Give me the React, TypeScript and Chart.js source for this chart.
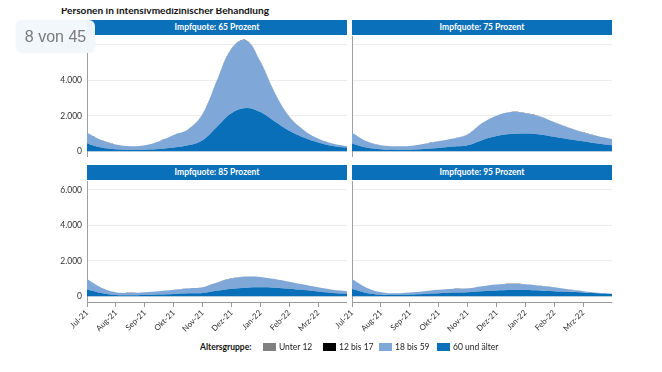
import React, { useEffect, useRef } from 'react';
import { Chart, registerables } from 'chart.js';

Chart.register(...registerables);

const MONTHS = ['Jul-21', 'Aug-21', 'Sep-21', 'Okt-21', 'Nov-21', 'Dez-21', 'Jan-22', 'Feb-22', 'Mrz-22'];
// half-month positions from 1 Jul 2021 (0) to 1 Apr 2022 (9)
const POSITIONS = [0, 0.5, 1, 1.5, 2, 2.5, 3, 3.5, 4, 4.5, 5, 5.5, 6, 6.5, 7, 7.5, 8, 8.5, 9];
const Y_TICKS = [0, 2000, 4000, 6000];

const PANEL_TITLES = ['Impfquote: 65 Prozent', 'Impfquote: 75 Prozent', 'Impfquote: 85 Prozent', 'Impfquote: 95 Prozent'];
const LEGEND_LABELS = ['Unter 12', '12 bis 17', '18 bis 59', '60 und älter'];

// Impfquote 65 %
const Q65_ALT = [440, 210, 115, 75, 95, 130, 210, 340, 630, 1390, 2150, 2440, 2210, 1680, 1160, 780, 500, 300, 210];
const Q65_MITTE = [605, 420, 265, 210, 245, 440, 705, 900, 1470, 2610, 3620, 3810, 2840, 1620, 800, 420, 220, 140, 75];
const Q65_JUGEND = [4, 3, 2, 1, 2, 2, 4, 5, 7, 11, 15, 16, 13, 8, 5, 3, 2, 1, 1];
const Q65_KIND = [4, 3, 2, 1, 2, 2, 4, 5, 7, 11, 14, 15, 12, 8, 5, 3, 2, 1, 1];

// Impfquote 75 %
const Q75_ALT = [440, 210, 115, 95, 95, 130, 190, 265, 340, 630, 860, 970, 1010, 950, 820, 685, 570, 440, 340];
const Q75_MITTE = [605, 360, 225, 190, 205, 290, 380, 455, 610, 950, 1140, 1240, 1140, 1010, 820, 645, 495, 420, 345];
const Q75_JUGEND = [4, 3, 2, 1, 2, 2, 3, 3, 4, 5, 6, 6, 6, 5, 4, 4, 3, 2, 2];
const Q75_KIND = [4, 3, 2, 1, 2, 2, 3, 3, 4, 5, 6, 6, 6, 5, 4, 3, 3, 2, 2];

// Impfquote 85 %
const Q85_ALT = [390, 194, 78, 58, 78, 97, 136, 175, 194, 310, 427, 485, 505, 485, 427, 350, 272, 194, 155];
const Q85_MITTE = [580, 291, 155, 136, 155, 193, 234, 270, 311, 465, 583, 620, 585, 485, 388, 310, 233, 176, 135];
const Q85_JUGEND = [3, 2, 1, 1, 1, 1, 2, 2, 2, 3, 3, 3, 3, 3, 2, 2, 2, 1, 1];
const Q85_KIND = [3, 2, 1, 1, 1, 1, 2, 2, 2, 3, 3, 3, 3, 3, 2, 2, 2, 1, 1];

// Impfquote 95 %
const Q95_ALT = [410, 194, 97, 78, 97, 136, 175, 214, 233, 290, 330, 350, 350, 330, 290, 252, 214, 175, 136];
const Q95_MITTE = [560, 291, 136, 97, 117, 154, 195, 213, 212, 273, 330, 350, 330, 270, 215, 138, 76, 30, 10];
const Q95_JUGEND = [3, 2, 1, 1, 1, 1, 2, 2, 2, 2, 2, 2, 2, 2, 2, 1, 1, 1, 1];
const Q95_KIND = [3, 2, 1, 1, 1, 1, 2, 2, 2, 2, 2, 2, 2, 2, 2, 1, 1, 1, 1];

const PANEL_DATA = [
  [Q65_ALT, Q65_MITTE, Q65_JUGEND, Q65_KIND],
  [Q75_ALT, Q75_MITTE, Q75_JUGEND, Q75_KIND],
  [Q85_ALT, Q85_MITTE, Q85_JUGEND, Q85_KIND],
  [Q95_ALT, Q95_MITTE, Q95_JUGEND, Q95_KIND],
];

const DARK = '#0a6fb9';
const LIGHT = '#7fa7d7';
const GREY = '#808080';
const BLACK = '#000000';
const HEADER = '#0b70ba';
const FONT = 'Lato, "Open Sans", sans-serif';

const fmt = (v: number) => String(v).replace(/\B(?=(\d{3})+(?!\d))/g, '.');

const toXY = (arr: number[]) => arr.map((y, i) => ({ x: POSITIONS[i], y }));

type PanelProps = {
  idx: number;
  left: number;
  top: number;
  height: number;
  showY: boolean;
  showX: boolean;
};

function Panel({ idx, left, top, height, showY, showX }: PanelProps) {
  const ref = useRef<HTMLCanvasElement | null>(null);
  useEffect(() => {
    if (!ref.current) return;
    const [alt, mitte, jugend, kind] = PANEL_DATA[idx];
    const common = { borderWidth: 0, pointRadius: 0, tension: 0.4 };
    const chart = new Chart(ref.current, {
      type: 'line',
      data: {
        datasets: [
          { label: LEGEND_LABELS[3], data: toXY(alt), backgroundColor: DARK, borderColor: DARK, fill: 'origin', ...common },
          { label: LEGEND_LABELS[2], data: toXY(mitte), backgroundColor: LIGHT, borderColor: LIGHT, fill: '-1', ...common },
          { label: LEGEND_LABELS[1], data: toXY(jugend), backgroundColor: BLACK, borderColor: BLACK, fill: '-1', ...common },
          { label: LEGEND_LABELS[0], data: toXY(kind), backgroundColor: GREY, borderColor: GREY, fill: '-1', ...common },
        ],
      } as any,
      options: {
        animation: false,
        responsive: false,
        maintainAspectRatio: false,
        layout: { padding: 0 },
        plugins: { legend: { display: false }, tooltip: { enabled: false } },
        scales: {
          x: {
            type: 'linear',
            min: 0,
            max: 9,
            display: showX,
            grid: { drawOnChartArea: false, drawTicks: true, tickLength: 5, color: '#9a9a9a' },
            border: { display: true, color: '#9a9a9a' },
            ticks: {
              autoSkip: false,
              maxRotation: 45,
              minRotation: 45,
              padding: 1,
              color: '#333',
              font: { family: FONT, size: 8 },
              callback: (v: any) => MONTHS[v] ?? '',
            },
            afterBuildTicks: (s: any) => {
              s.ticks = MONTHS.map((_, i) => ({ value: i }));
            },
            afterFit: (s: any) => {
              s.height = showX ? 38 : 0;
              s.paddingLeft = 0;
              s.paddingRight = 0;
            },
          },
          y: {
            stacked: true,
            min: -320,
            max: 6500,
            grid: { color: '#ececec', drawTicks: false },
            border: { display: true, color: '#a0a0a0' },
            ticks: {
              display: showY,
              padding: 5,
              color: '#333',
              font: { family: FONT, size: 8.5 },
              callback: (v: any) => fmt(Number(v)),
            },
            afterBuildTicks: (s: any) => {
              s.ticks = Y_TICKS.map((v) => ({ value: v }));
            },
            afterFit: (s: any) => {
              s.width = 47;
              s.paddingTop = 0;
              s.paddingBottom = 0;
            },
          },
        },
      } as any,
    });
    return () => chart.destroy();
  }, [idx, showX, showY]);
  return (
    <canvas
      ref={ref}
      width={307}
      height={height}
      style={{ position: 'absolute', left, top, width: 307, height }}
    />
  );
}

function HeaderBar({ left, top, text }: { left: number; top: number; text: string }) {
  return (
    <div
      style={{
        position: 'absolute',
        left,
        top,
        width: 260,
        height: 15,
        background: HEADER,
        color: '#fff',
        fontFamily: FONT,
        fontWeight: 700,
        fontSize: 8.5,
        lineHeight: '15px',
        textAlign: 'center',
      }}
    >
      {text}
    </div>
  );
}

export default function App() {
  const legendColors = [GREY, BLACK, LIGHT, DARK];
  const legendX = [263, 323, 379, 437];
  return (
    <div style={{ position: 'relative', width: 662, height: 372, margin: -8, background: '#fff', overflow: 'hidden' }}>
      <div
        style={{
          position: 'absolute',
          left: 61,
          top: 4,
          fontFamily: FONT,
          fontWeight: 700,
          fontSize: 10.1,
          lineHeight: '13px',
          color: '#111',
          whiteSpace: 'nowrap',
        }}
      >
        Personen in intensivmedizinischer Behandlung
      </div>

      <HeaderBar left={87} top={20} text={PANEL_TITLES[0]} />
      <HeaderBar left={352} top={20} text={PANEL_TITLES[1]} />
      <HeaderBar left={87} top={165} text={PANEL_TITLES[2]} />
      <HeaderBar left={352} top={165} text={PANEL_TITLES[3]} />

      <Panel idx={0} left={40} top={36} height={121} showY={true} showX={false} />
      <Panel idx={1} left={305} top={36} height={121} showY={false} showX={false} />
      <Panel idx={2} left={40} top={181} height={159} showY={true} showX={true} />
      <Panel idx={3} left={305} top={181} height={159} showY={false} showX={true} />

      <div
        style={{
          position: 'absolute',
          left: 200,
          top: 341,
          fontFamily: FONT,
          fontWeight: 700,
          fontSize: 8.5,
          lineHeight: '12px',
          color: '#111',
          whiteSpace: 'nowrap',
        }}
      >
        Altersgruppe:
      </div>
      {LEGEND_LABELS.map((lab, i) => (
        <div
          key={lab}
          style={{
            position: 'absolute',
            left: legendX[i],
            top: 341,
            height: 12,
            display: 'flex',
            alignItems: 'center',
            fontFamily: FONT,
            fontSize: 8.5,
            color: '#222',
            whiteSpace: 'nowrap',
          }}
        >
          <span style={{ display: 'inline-block', width: 13, height: 8, background: legendColors[i], marginRight: 3 }} />
          {lab}
        </div>
      ))}

      <div
        style={{
          position: 'absolute',
          left: 16,
          top: 20,
          width: 79,
          height: 33,
          borderRadius: 6,
          background: 'rgba(242,247,252,0.97)',
          boxShadow: '0 0 2px rgba(0,0,0,0.06)',
          fontFamily: '"Liberation Sans", Arial, sans-serif',
          fontSize: 16,
          lineHeight: '33px',
          color: '#7a7a7a',
          textAlign: 'center',
        }}
      >
        8 von 45
      </div>
    </div>
  );
}
